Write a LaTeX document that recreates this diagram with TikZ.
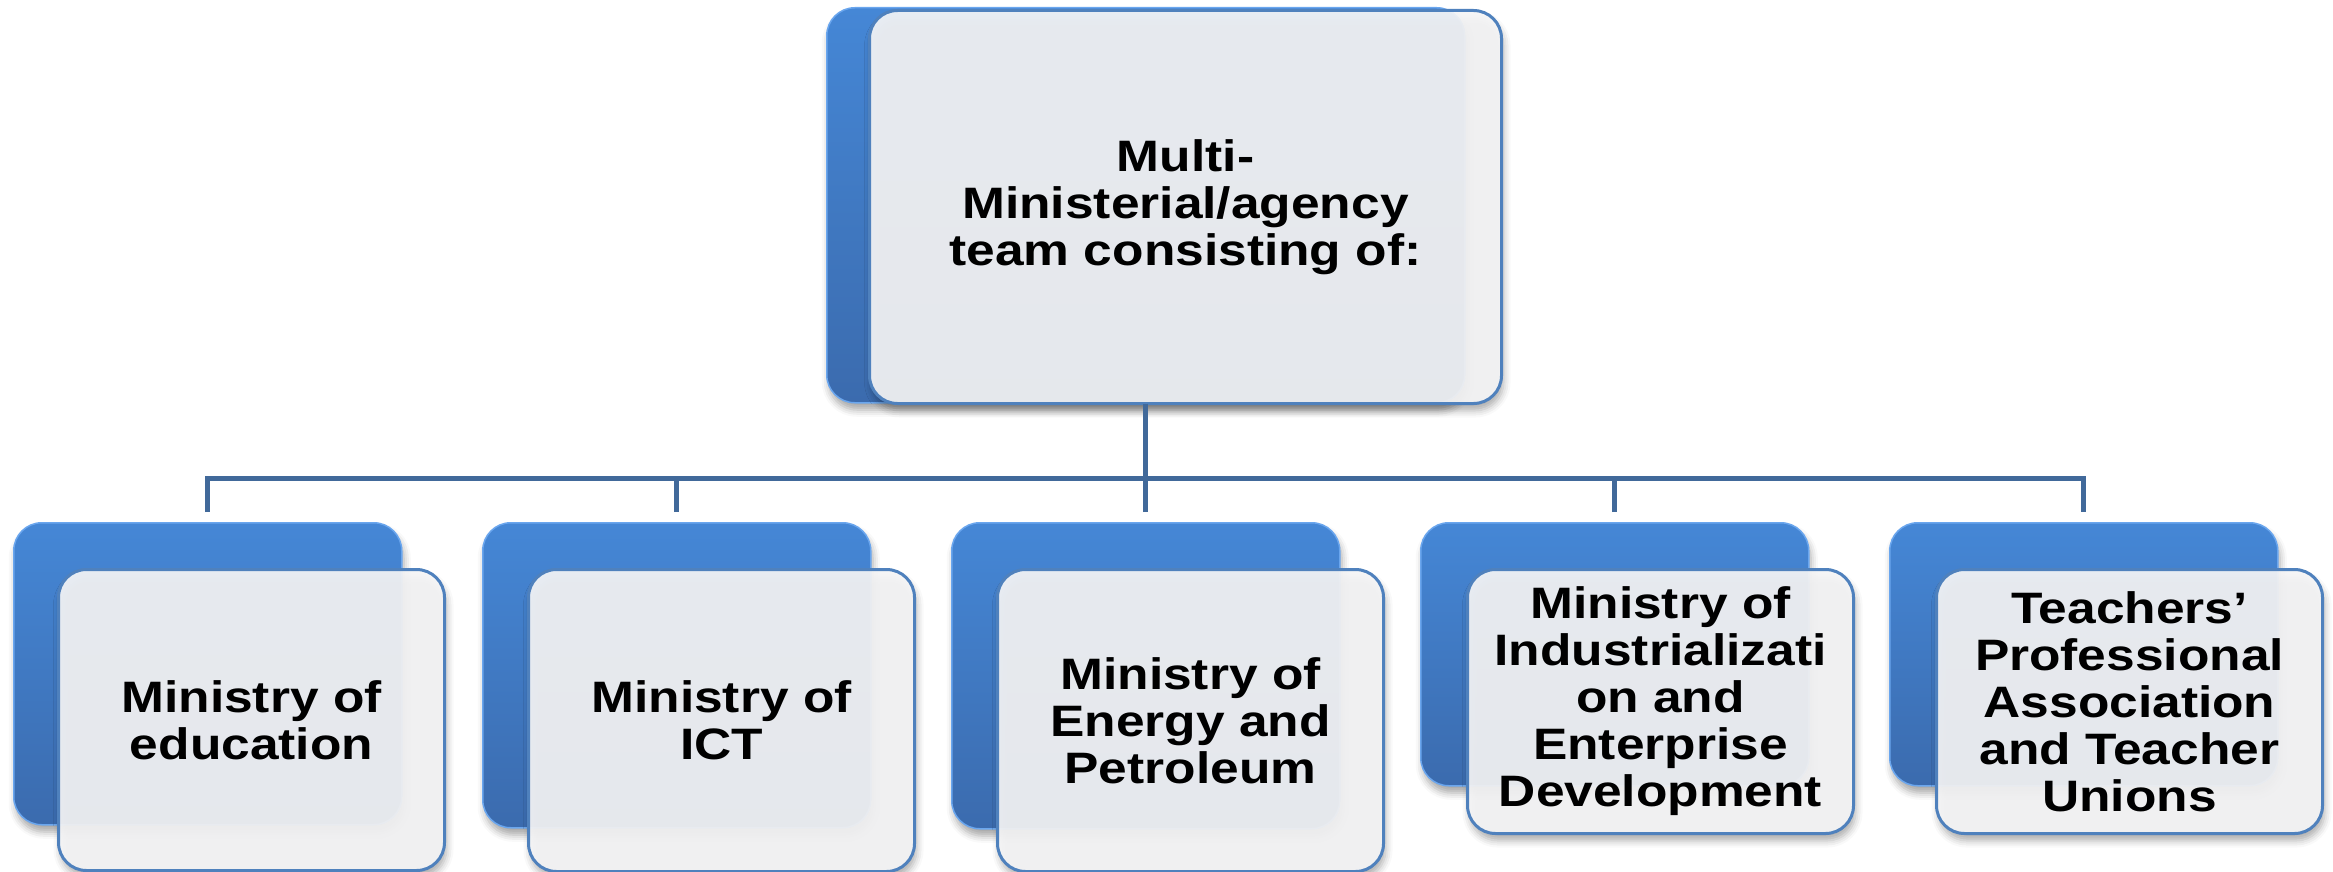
\documentclass[tikz,border=0pt]{standalone}
\usepackage{fontspec}
\newfontfamily\heavy{Liberation Sans}[FakeStretch=1.17]
\usetikzlibrary{shadows.blur}
\definecolor{lineblue}{HTML}{41699A}
\definecolor{blueT}{HTML}{4587D6}
\definecolor{blueB}{HTML}{3B6BAE}
\definecolor{blueRim}{HTML}{6AA6EE}
\definecolor{frontfill}{HTML}{F6F6F7}
\definecolor{frontdraw}{HTML}{4F81BD}
\tikzset{
  back/.style={anchor=north west, inner sep=0pt, rounded corners=28pt,
    top color=blueT, bottom color=blueB, draw=blueRim, line width=1.5pt,
    blur shadow={shadow xshift=2pt, shadow yshift=-7pt, shadow blur radius=7pt, shadow opacity=35}},
  front/.style={anchor=north west, inner sep=0pt, rounded corners=28pt,
    fill=frontfill, fill opacity=0.92, text opacity=1, draw=frontdraw, line width=3pt,
    align=center, font=\heavy\bfseries\fontsize{44}{47}\selectfont,
    blur shadow={shadow xshift=2pt, shadow yshift=-7pt, shadow blur radius=7pt, shadow opacity=35}},
  conn/.style={draw=lineblue, line width=5pt}
}
\begin{document}
\begin{tikzpicture}[x=1pt,y=-1pt]
\useasboundingbox (0,0) rectangle (2333,872);
% top box
\node[back, minimum width=638pt, minimum height=395pt] (b0) at (826,7) {};
\node[front, minimum width=632pt, minimum height=393pt] (f0) at (868,9)
  {Multi-\\Ministerial/agency\\team consisting of:};
% bottom back boxes
\node[back, minimum width=388pt, minimum height=302pt] (b1) at (13,522) {};
\node[back, minimum width=388pt, minimum height=305pt] (b2) at (482,522) {};
\node[back, minimum width=388pt, minimum height=306pt] (b3) at (951,522) {};
\node[back, minimum width=388pt, minimum height=263pt] (b4) at (1420,522) {};
\node[back, minimum width=388pt, minimum height=263pt] (b5) at (1889,522) {};
% bottom front boxes
\node[front, minimum width=386pt, minimum height=301pt] (f1) at (57,568)
  {Ministry of\\education};
\node[front, minimum width=386pt, minimum height=302pt] (f2) at (527,568)
  {Ministry of\\ICT};
\node[front, minimum width=386pt, minimum height=302pt] (f3) at (996,568)
  {Ministry of\\Energy and\\Petroleum};
\node[front, minimum width=386pt, minimum height=264pt] (f4) at (1466,568)
  {Ministry of\\Industrializati\\on and\\Enterprise\\Development};
\node[front, minimum width=386pt, minimum height=264pt] (f5) at (1935,568)
  {Teachers’\\Professional\\Association\\and Teacher\\Unions};
% connectors
\coordinate (hub) at ([yshift=-75pt]b0.south);
\foreach \i in {1,...,5} {
  \coordinate (j\i) at ([yshift=10pt]b\i.north);
}
\draw[conn] (b0.south) -- (hub);
\draw[conn] (j1) -- (j1 |- hub) -- (j5 |- hub) -- (j5);
\draw[conn] (j2) -- (j2 |- hub);
\draw[conn] (j3) -- (j3 |- hub);
\draw[conn] (j4) -- (j4 |- hub);
\end{tikzpicture}
\end{document}
